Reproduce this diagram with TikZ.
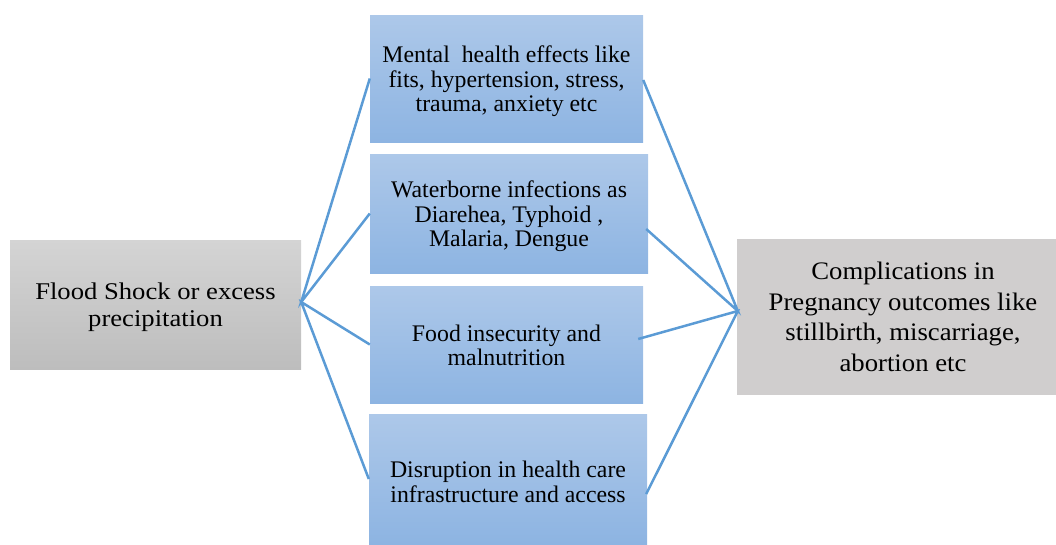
\documentclass[tikz,border=0pt]{standalone}
\usepackage{fontspec}
\setmainfont{Liberation Serif}
\newfontfamily\widesrc{Liberation Serif}[FakeStretch=1.11]
\newfontfamily\wideout{Liberation Serif}[FakeStretch=1.06]
\definecolor{linkblue}{HTML}{5B9BD5}
\definecolor{bluetop}{HTML}{ADC8E9}
\definecolor{bluebot}{HTML}{8DB4E2}
\definecolor{graytop}{HTML}{D4D4D4}
\definecolor{graybot}{HTML}{BDBDBD}
\definecolor{grayflat}{HTML}{D0CECE}
\tikzset{
  graybox/.style={rectangle, inner sep=0pt, top color=graytop, bottom color=graybot, draw=none},
  outbox/.style={rectangle, inner sep=0pt, fill=grayflat, draw=none},
  bluebox/.style={rectangle, inner sep=0pt, top color=bluetop, bottom color=bluebot, draw=none},
  srctext/.style={inner sep=0pt, align=center, font=\widesrc\fontsize{24}{27}\selectfont},
  outtext/.style={inner sep=0pt, align=center, font=\wideout\fontsize{25.2}{30.5}\selectfont},
  bluetext/.style={inner sep=0pt, align=center, font=\fontsize{23.8}{24.5}\selectfont},
  link/.style={draw=linkblue, line width=2.5pt}
}
\begin{document}
\begin{tikzpicture}[x=1pt,y=-1pt]
\useasboundingbox (0,0) rectangle (1056,544);
\node[graybox, minimum width=291pt, minimum height=129pt] (src) at (155.5,304.5) {};
\node[bluebox, minimum width=273pt, minimum height=127pt] (b1) at (506.5,78.5) {};
\node[bluebox, minimum width=278pt, minimum height=119pt] (b2) at (509,213.5) {};
\node[bluebox, minimum width=273pt, minimum height=117pt] (b3) at (506.5,344.5) {};
\node[bluebox, minimum width=278pt, minimum height=130pt] (b4) at (508,479) {};
\node[outbox, minimum width=319pt, minimum height=156pt] (out) at (896.5,317) {};
\node[srctext] (srct) at ([yshift=-3pt]src.center) {Flood Shock or excess\\precipitation};
\node[bluetext] (b1t) at ([yshift=-3pt]b1.center) {Mental\ \ health effects like\\fits, hypertension, stress,\\trauma, anxiety etc};
\node[bluetext] (b2t) at ([yshift=-3pt]b2.center) {Waterborne infections as\\Diarehea, Typhoid ,\\Malaria, Dengue};
\node[bluetext] (b3t) at ([yshift=-1pt]b3.center) {Food insecurity and\\malnutrition};
\node[bluetext] (b4t) at ([yshift=-3pt]b4.center) {Disruption in health care\\infrastructure and access};
\node[outtext] (outt) at ([xshift=6.5pt]out.center) {Complications in\\Pregnancy outcomes like\\stillbirth, miscarriage,\\abortion etc};
\coordinate (hl) at ([yshift=2.5pt]src.east);
\coordinate (hr) at ([yshift=6pt,xshift=1pt]out.west);
\coordinate (r1) at ([yshift=-1.5pt]b1.east);
\coordinate (r2) at ([yshift=-15.5pt,xshift=-2pt]b2.east);
\coordinate (r3) at ([yshift=5.5pt,xshift=-5pt]b3.east);
\coordinate (r4) at ([yshift=-15pt,xshift=-1pt]b4.east);
\draw[link] (b1.west) -- (hl) -- (b2.west);
\draw[link] (b3.west) -- (hl) -- (b4.west);
\draw[link] (r1) -- (hr) -- (r2);
\draw[link] (r3) -- (hr) -- (r4);
\end{tikzpicture}
\end{document}
